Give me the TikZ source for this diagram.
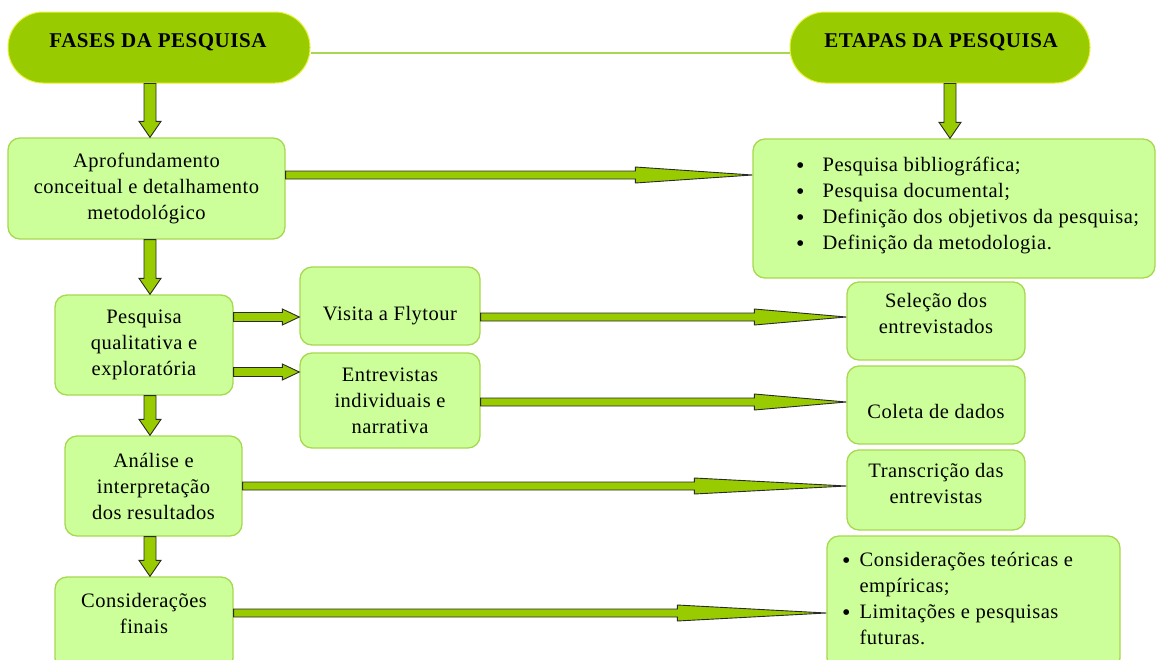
\documentclass[tikz,border=0pt]{standalone}
\usepackage{fontspec}
\setmainfont{Liberation Serif}[LetterSpace=2.5]
\usetikzlibrary{calc}
\definecolor{hdrfill}{HTML}{99CC00}
\definecolor{hdrline}{HTML}{E8F040}
\definecolor{boxfill}{HTML}{CCFF99}
\definecolor{boxline}{HTML}{A8D850}
\definecolor{arrfill}{HTML}{99CC00}
\definecolor{arrline}{HTML}{2A2A2A}
\definecolor{linkcol}{HTML}{A8D850}
\newcommand\bodyfont{\fontsize{20.5}{26}\selectfont}
\newcommand\hdrfont{\fontsize{21}{24}\selectfont\bfseries}
\newcommand\bul{\raisebox{-2.5pt}{\fontsize{24}{26}\selectfont•}}
\newcommand\downarr[2]{\draw[fatarr] let \p1=(#1), \p2=(#2) in
  (\x1-6pt,\y1) -- (\x1-6pt,\y2+16pt) -- (\x1-11pt,\y2+16pt) -- (\x1,\y2)
  -- (\x1+11pt,\y2+16pt) -- (\x1+6pt,\y2+16pt) -- (\x1+6pt,\y1) -- cycle;}
\newcommand\shortarr[2]{\draw[fatarr] let \p1=(#1), \p2=(#2) in
  (\x1,\y1+4.5pt) -- (\x2-17pt,\y1+4.5pt) -- (\x2-17pt,\y1+8pt) -- (\x2,\y1)
  -- (\x2-17pt,\y1-8pt) -- (\x2-17pt,\y1-4.5pt) -- (\x1,\y1-4.5pt) -- cycle;}
\newcommand\longarr[3]{\draw[fatarr] let \p1=(#1), \p2=(#2) in
  (\x1,\y1+4pt) -- (\x2-#3pt,\y1+4pt) -- (\x2-#3pt,\y1+8pt) -- (\x2,\y1)
  -- (\x2-#3pt,\y1-8pt) -- (\x2-#3pt,\y1-4pt) -- (\x1,\y1-4pt) -- cycle;}
\tikzset{
  hdr/.style={draw=hdrline, line width=1pt, fill=hdrfill, rounded corners=35pt,
    minimum height=71pt, inner sep=0pt},
  box/.style={draw=boxline, line width=1.3pt, fill=boxfill, rounded corners=12pt,
    inner sep=0pt, align=center, font=\bodyfont},
  txt/.style={inner sep=0pt, align=center, font=\bodyfont},
  hdrtxt/.style={inner sep=0pt, font=\hdrfont},
  fatarr/.style={fill=arrfill, draw=arrline, line width=0.9pt, line join=miter},
  link/.style={draw=linkcol, line width=1.5pt}
}
\begin{document}
\begin{tikzpicture}[x=1pt,y=-1pt]
\useasboundingbox (0,0) rectangle (1157,659);
\clip (0,0) rectangle (1157,659);
% headers
\node[hdr, minimum width=302pt] (hdrL) at (159,47.5) {};
\node[hdr, minimum width=300pt] (hdrR) at (940,47.5) {};
\draw[link] (hdrL.east |- 0,53) -- (hdrR.west |- 0,53);
\node[hdrtxt] (hdrLt) at (158,42) {FASES DA PESQUISA};
\node[hdrtxt] (hdrRt) at (941,42) {ETAPAS DA PESQUISA};
% boxes
\node[box, minimum width=277pt, minimum height=101pt] (A) at (146.5,188.5)
  {Aprofundamento\\conceitual e detalhamento\\metodológico};
\node[box, minimum width=402pt, minimum height=139pt] (B) at (954,208.5) {};
\node[txt, anchor=west, align=left] (Bt) at (796,205)
  {\begin{tabular}{@{}l@{\hspace{18pt}}l@{}}
   \bul & Pesquisa bibliográfica;\\
   \bul & Pesquisa documental;\\
   \bul & Definição dos objetivos da pesquisa;\\
   \bul & Definição da metodologia.
   \end{tabular}};
\node[box, minimum width=178pt, minimum height=100pt] (C) at (144,345)
  {Pesquisa\\qualitativa e\\exploratória};
\node[box, minimum width=180pt, minimum height=78pt] (D) at (390,306) {};
\node[txt] (Dt) at (390,316) {Visita a Flytour};
\node[box, minimum width=180pt, minimum height=95pt] (E) at (390,400.5)
  {Entrevistas\\individuais e\\narrativa};
\node[box, minimum width=178pt, minimum height=78pt] (F) at (936,321) {};
\node[txt] (Ft) at (936,313) {Seleção dos\\entrevistados};
\node[box, minimum width=178pt, minimum height=78pt] (G) at (936,405) {};
\node[txt] (Gt) at (936,411) {Coleta de dados};
\node[box, minimum width=177pt, minimum height=100pt] (H) at (153.5,486)
  {Análise e\\interpretação\\dos resultados};
\node[box, minimum width=178pt, minimum height=80pt] (I) at (936,490) {};
\node[txt] (It) at (936,483) {Transcrição das\\entrevistas};
\node[box, minimum width=178pt, minimum height=93pt] (J) at (144,623.5) {};
\node[txt] (Jt) at (144,613) {Considerações\\finais};
\node[box, minimum width=293pt, minimum height=134pt] (K) at (973.5,603) {};
\node[txt, anchor=west, align=left] (Kt) at (842,600)
  {\begin{tabular}{@{}l@{\hspace{9pt}}l@{}}
   \bul & Considerações teóricas e\\
     & empíricas;\\
   \bul & Limitações e pesquisas\\
     & futuras.
   \end{tabular}};
% vertical arrows
\downarr{hdrL.south -| 150,0}{A.north -| 150,0}
\downarr{hdrR.south -| 950,0}{B.north -| 950,0}
\downarr{A.south -| 150,0}{C.north -| 150,0}
\downarr{C.south -| 150,0}{H.north -| 150,0}
\downarr{H.south -| 150,0}{J.north -| 150,0}
% short arrows
\shortarr{C.east |- 0,317}{D.west |- 0,317}
\shortarr{C.east |- 0,372}{E.west |- 0,372}
% long arrows
\longarr{A.east |- 0,175}{B.west |- 0,175}{117}
\longarr{D.east |- 0,317}{F.west |- 0,317}{92}
\longarr{E.east |- 0,402}{G.west |- 0,402}{92}
\longarr{H.east |- 0,486}{I.west |- 0,486}{152}
\longarr{J.east |- 0,613}{K.west |- 0,613}{149}
\end{tikzpicture}
\end{document}
